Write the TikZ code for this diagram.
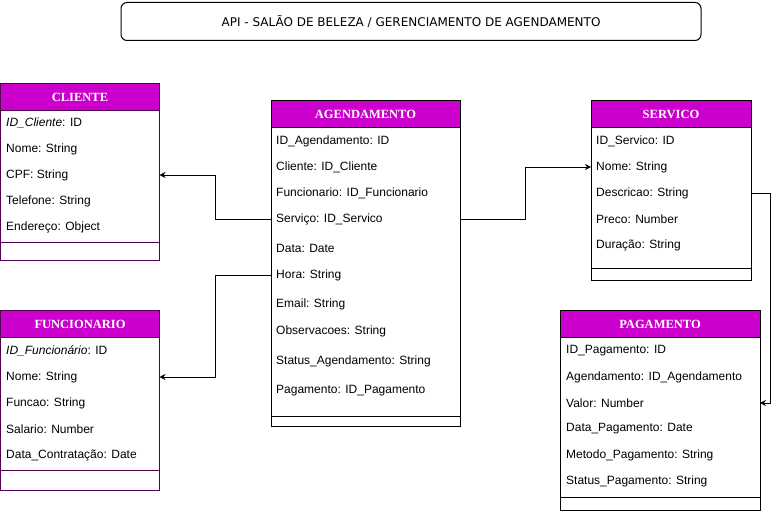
\documentclass[tikz,border=0pt]{standalone}
\usepackage{fontspec}
\setmainfont{Liberation Sans}
\newfontfamily\headfont{Liberation Serif}
\newfontfamily\titlefont{DejaVu Sans}
\usetikzlibrary{arrows.meta,positioning}
\definecolor{headmag}{RGB}{204,0,204}
\definecolor{entpurple}{RGB}{80,0,80}
\tikzset{
  ent/.style={draw,line width=1pt,inner sep=0pt,outer sep=0pt,anchor=north west},
  enthead/.style={draw,fill=headmag,line width=1pt,inner sep=0pt,outer sep=0pt,
    anchor=north west,minimum height=27,text=white,
    font=\headfont\fontsize{12.5}{14}\selectfont\bfseries},
  attr/.style={anchor=west,inner sep=0pt,font=\fontsize{12}{14}\selectfont},
  rel/.style={-{Stealth[length=6pt,width=6pt]},line width=1pt},
}

\begin{document}
\begin{tikzpicture}[x=1pt,y=-1pt]
  \useasboundingbox (0,0) rectangle (779,511);
  % titulo
  \node[draw,rounded corners=6pt,line width=1pt,minimum width=580,minimum height=38,
    anchor=north west,font=\titlefont\fontsize{12}{14}\selectfont] (titulo) at (120.5,2)
    {API - SALÃO DE BELEZA / GERENCIAMENTO DE AGENDAMENTO};

  % cliente
  \node[ent,draw=entpurple,minimum width=159,minimum height=177] (cli) at (0.5,83.5) {};
  \node[enthead,draw=entpurple,minimum width=159] (cli-h) at (0.5,83.5) {CLIENTE};
  \foreach \t [count=\i] in {{\textit{ID\_Cliente}: ID},Nome: String,CPF: String,
      Telefone: String,Endereço: Object}
    \node[attr] (cli-\i) at (6,97+26*\i) {\t};
  \draw[entpurple,line width=1pt] (cli.west |- 0,242) -- (cli.east |- 0,242);

  % funcionario
  \node[ent,draw=entpurple,minimum width=159,minimum height=180] (fun) at (0.5,310.5) {};
  \node[enthead,draw=entpurple,minimum width=159] (fun-h) at (0.5,310.5) {FUNCIONARIO};
  \foreach \t [count=\i] in {{\textit{ID\_Funcionário}: ID},Nome: String,Funcao: String,
      Salario: Number,Data\_Contratação: Date}
    \node[attr] (fun-\i) at (6,325+26*\i) {\t};
  \draw[entpurple,line width=1pt] (fun.west |- 0,470) -- (fun.east |- 0,470);

  % agendamento
  \node[ent,minimum width=189,minimum height=326] (ag) at (271,100.5) {};
  \node[enthead,minimum width=189] (ag-h) at (271,100.5) {AGENDAMENTO};
  \foreach \y/\t [count=\i] in {141/ID\_Agendamento: ID,167/Cliente: ID\_Cliente,
      193/Funcionario: ID\_Funcionario,219/Serviço: ID\_Servico,248/Data: Date,
      275/Hora: String,304/Email: String,331/Observacoes: String,
      361/Status\_Agendamento: String,391/Pagamento: ID\_Pagamento}
    \node[attr] (ag-\i) at (276,\y) {\t};
  \draw[line width=1pt] (ag.west |- 0,416) -- (ag.east |- 0,416);

  % servico
  \node[ent,minimum width=160,minimum height=180] (ser) at (591,100.5) {};
  \node[enthead,minimum width=160] (ser-h) at (591,100.5) {SERVICO};
  \foreach \t [count=\i] in {ID\_Servico: ID,Nome: String,Descricao: String,
      Preco: Number,Duração: String}
    \node[attr] (ser-\i) at (596,115+26*\i) {\t};
  \draw[line width=1pt] (ser.west |- 0,268) -- (ser.east |- 0,268);

  % pagamento
  \node[ent,minimum width=200,minimum height=200] (pag) at (560,310.5) {};
  \node[enthead,minimum width=200] (pag-h) at (560,310.5) {PAGAMENTO};
  \foreach \t [count=\i] in {ID\_Pagamento: ID,Agendamento: ID\_Agendamento,
      Valor: Number,Data\_Pagamento: Date,Metodo\_Pagamento: String,
      Status\_Pagamento: String}
    \node[attr] (pag-\i) at (566,325+26*\i) {\t};
  \draw[line width=1pt] (pag.west |- 0,497) -- (pag.east |- 0,497);

  % relacoes
  \draw[rel] (ag-4 -| ag.west) -- ++(-56,0) |- (cli-3 -| cli.east);
  \draw[rel] (ag-6 -| ag.west) -- ++(-56,0) |- (fun-2 -| fun.east);
  \draw[rel] (ag-4 -| ag.east) -- ++(65,0) |- (ser-2 -| ser.west);
  \draw[rel] (ser-3 -| ser.east) -- ++(19,0) |- (pag-3 -| pag.east);
\end{tikzpicture}
\end{document}
